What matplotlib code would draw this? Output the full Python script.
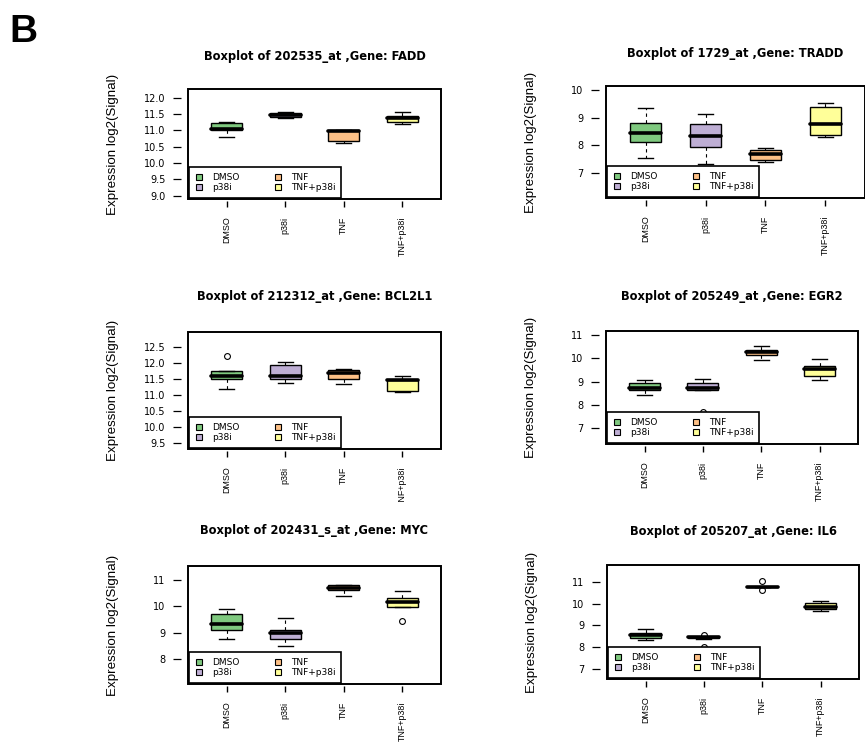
import matplotlib
matplotlib.use("Agg")
import matplotlib.pyplot as plt
from matplotlib.lines import Line2D
from matplotlib.patches import Rectangle
from matplotlib.transforms import Bbox, TransformedBbox

W, H = 865, 750

groups = ["DMSO", "p38i", "TNF", "TNF+p38i"]
colors = ["#7FC97F", "#BEAED4", "#FDC086", "#FFFF99"]

# each row: whisker low, q1, median, q3, whisker high
fadd_box = [
    [10.81, 11.01, 11.03, 11.24, 11.27],
    [11.38, 11.41, 11.47, 11.53, 11.56],
    [10.62, 10.67, 10.98, 11.00, 11.01],
    [11.20, 11.27, 11.37, 11.44, 11.57],
]
fadd_out = [[], [], [], []]
fadd_ticks = [9.0, 9.5, 10.0, 10.5, 11.0, 11.5, 12.0]

tradd_box = [
    [7.52, 8.13, 8.43, 8.81, 9.35],
    [7.30, 7.92, 8.32, 8.78, 9.14],
    [7.39, 7.47, 7.69, 7.84, 7.90],
    [8.28, 8.36, 8.76, 9.38, 9.53],
]
tradd_out = [[], [], [], []]
tradd_ticks = [7, 8, 9, 10]

bcl2l1_box = [
    [11.20, 11.51, 11.60, 11.75, 11.75],
    [11.39, 11.49, 11.60, 11.94, 12.02],
    [11.35, 11.49, 11.69, 11.80, 11.82],
    [11.11, 11.12, 11.46, 11.47, 11.60],
]
bcl2l1_out = [[12.23], [], [], []]
bcl2l1_ticks = [9.5, 10.0, 10.5, 11.0, 11.5, 12.0, 12.5]

egr2_box = [
    [8.44, 8.63, 8.74, 8.96, 9.06],
    [8.62, 8.63, 8.74, 8.96, 9.13],
    [9.92, 10.15, 10.29, 10.38, 10.53],
    [9.06, 9.23, 9.56, 9.66, 9.96],
]
egr2_out = [[], [7.69], [], []]
egr2_ticks = [7, 8, 9, 10, 11]

myc_box = [
    [8.75, 9.10, 9.34, 9.71, 9.91],
    [8.51, 8.77, 8.99, 9.10, 9.57],
    [10.39, 10.62, 10.71, 10.80, 10.80],
    [9.99, 9.99, 10.16, 10.32, 10.57],
]
myc_out = [[], [], [], [9.44]]
myc_ticks = [8, 9, 10, 11]

il6_box = [
    [8.33, 8.44, 8.56, 8.67, 8.84],
    [8.39, 8.40, 8.45, 8.48, 8.48],
    [10.76, 10.76, 10.77, 10.79, 10.79],
    [9.69, 9.75, 9.87, 10.06, 10.14],
]
il6_out = [[], [8.58, 8.02], [11.08, 10.64], []]
il6_ticks = [7, 8, 9, 10, 11]

# probe, gene, box stats, outliers, y ticks, tick format, ylim
panels = [
    ("202535_at", "FADD", fadd_box, fadd_out, fadd_ticks, "%.1f", (8.90, 12.27)),
    ("1729_at", "TRADD", tradd_box, tradd_out, tradd_ticks, "%d", (6.07, 10.16)),
    ("212312_at", "BCL2L1", bcl2l1_box, bcl2l1_out, bcl2l1_ticks, "%.1f", (9.32, 12.97)),
    ("205249_at", "EGR2", egr2_box, egr2_out, egr2_ticks, "%d", (6.30, 11.19)),
    ("202431_s_at", "MYC", myc_box, myc_out, myc_ticks, "%d", (7.05, 11.54)),
    ("205207_at", "IL6", il6_box, il6_out, il6_ticks, "%d", (6.52, 11.80)),
]

# plot frames in pixels: left, top, right, bottom, title centre y
frames = [
    (188, 89, 441, 199, 56.7),
    (606, 86, 865, 198, 53.3),
    (188, 332, 441, 449, 296),
    (606, 331, 858, 444, 296.7),
    (188, 566, 441, 684, 530.7),
    (607, 565, 859, 679, 531.7),
]


def drawPanel(fig, frame, probe, gene, box, out, ticks, fmt, ylim):
    left, top, right, bottom, title_y = frame
    ax = fig.add_axes([left / W, 1 - bottom / H, (right - left) / W, (bottom - top) / H])

    # R style: ticks sit a little away from the frame
    ax.spines["left"].set_position(("outward", 5))
    ax.spines["bottom"].set_position(("outward", 1.5))
    for s in ax.spines.values():
        s.set_visible(False)

    stats = []
    for b, o in zip(box, out):
        stats.append(dict(whislo=b[0], q1=b[1], med=b[2], q3=b[3], whishi=b[4], fliers=o))

    parts = ax.bxp(
        stats, positions=[1, 2, 3, 4], widths=0.53, capwidths=0.26,
        patch_artist=True, manage_ticks=False,
        boxprops=dict(edgecolor="black", linewidth=1.0),
        medianprops=dict(color="black", linewidth=2.6, solid_capstyle="round"),
        whiskerprops=dict(color="black", linewidth=0.8, linestyle=(0, (3, 3))),
        capprops=dict(color="black", linewidth=1.0),
        flierprops=dict(marker="o", markerfacecolor="none", markeredgecolor="black",
                        markersize=4.2, markeredgewidth=0.8),
    )
    for patch, c in zip(parts["boxes"], colors):
        patch.set_facecolor(c)

    ax.set_xlim(0.34, 4.66)
    ax.set_ylim(*ylim)
    ax.set_yticks(ticks)
    ax.set_yticklabels([fmt % t for t in ticks], family="DejaVu Sans", fontsize=7)
    ax.set_xticks([1, 2, 3, 4])
    ax.set_xticklabels(groups, rotation=90, family="Liberation Sans", fontsize=6.4)
    ax.tick_params(axis="y", direction="out", length=5.8, width=0.9, pad=5.3)
    ax.tick_params(axis="x", direction="out", length=4.2, width=1.0, pad=7)

    ax.add_patch(Rectangle((0, 0), 1, 1, transform=ax.transAxes, fill=False,
                           edgecolor="black", linewidth=1.4, clip_on=False, zorder=3))

    ax.set_ylabel("Expression log2(Signal)", family="Liberation Sans", fontsize=9.6, va="center")
    ax.yaxis.set_label_coords(-75 / (right - left), 0.5)

    fig.text((left + right) / 2 / W, 1 - title_y / H, f"Boxplot of {probe} ,Gene: {gene}",
             ha="center", va="center", family="DejaVu Sans", fontweight="bold", fontsize=8.3)

    handles = [Line2D([], [], linestyle="none", marker="s", markersize=5,
                      markerfacecolor=c, markeredgecolor="black", markeredgewidth=0.8)
               for c in colors]
    leg = ax.legend(handles, groups, ncol=2, loc="lower left", borderaxespad=0.15,
                    prop=dict(family="DejaVu Sans", size=6.5), handlelength=1.0,
                    handletextpad=0.9, columnspacing=3.8, borderpad=0.6,
                    labelspacing=0.15, fancybox=False, framealpha=1, edgecolor="black")
    leg.get_frame().set_linewidth(1.2)
    leg.set_zorder(10)
    return ax


fig = plt.figure(figsize=(W / 100, H / 100), dpi=100)

axes = []
for p, fr in zip(panels, frames):
    axes.append(drawPanel(fig, fr, *p))

# the lowest label of the middle left panel is cut off by the next panel
cut = TransformedBbox(Bbox.from_extents(0, 1 - 502 / H, 1, 1), fig.transFigure)
for lab in axes[2].get_xticklabels():
    lab.set_clip_box(cut)
    lab.set_clip_on(True)

fig.text(9 / W, 1 - 41.7 / H, "B", family="Liberation Sans", fontweight="bold",
         fontsize=28, ha="left", va="baseline")

fig.savefig("out.png", dpi=100)
